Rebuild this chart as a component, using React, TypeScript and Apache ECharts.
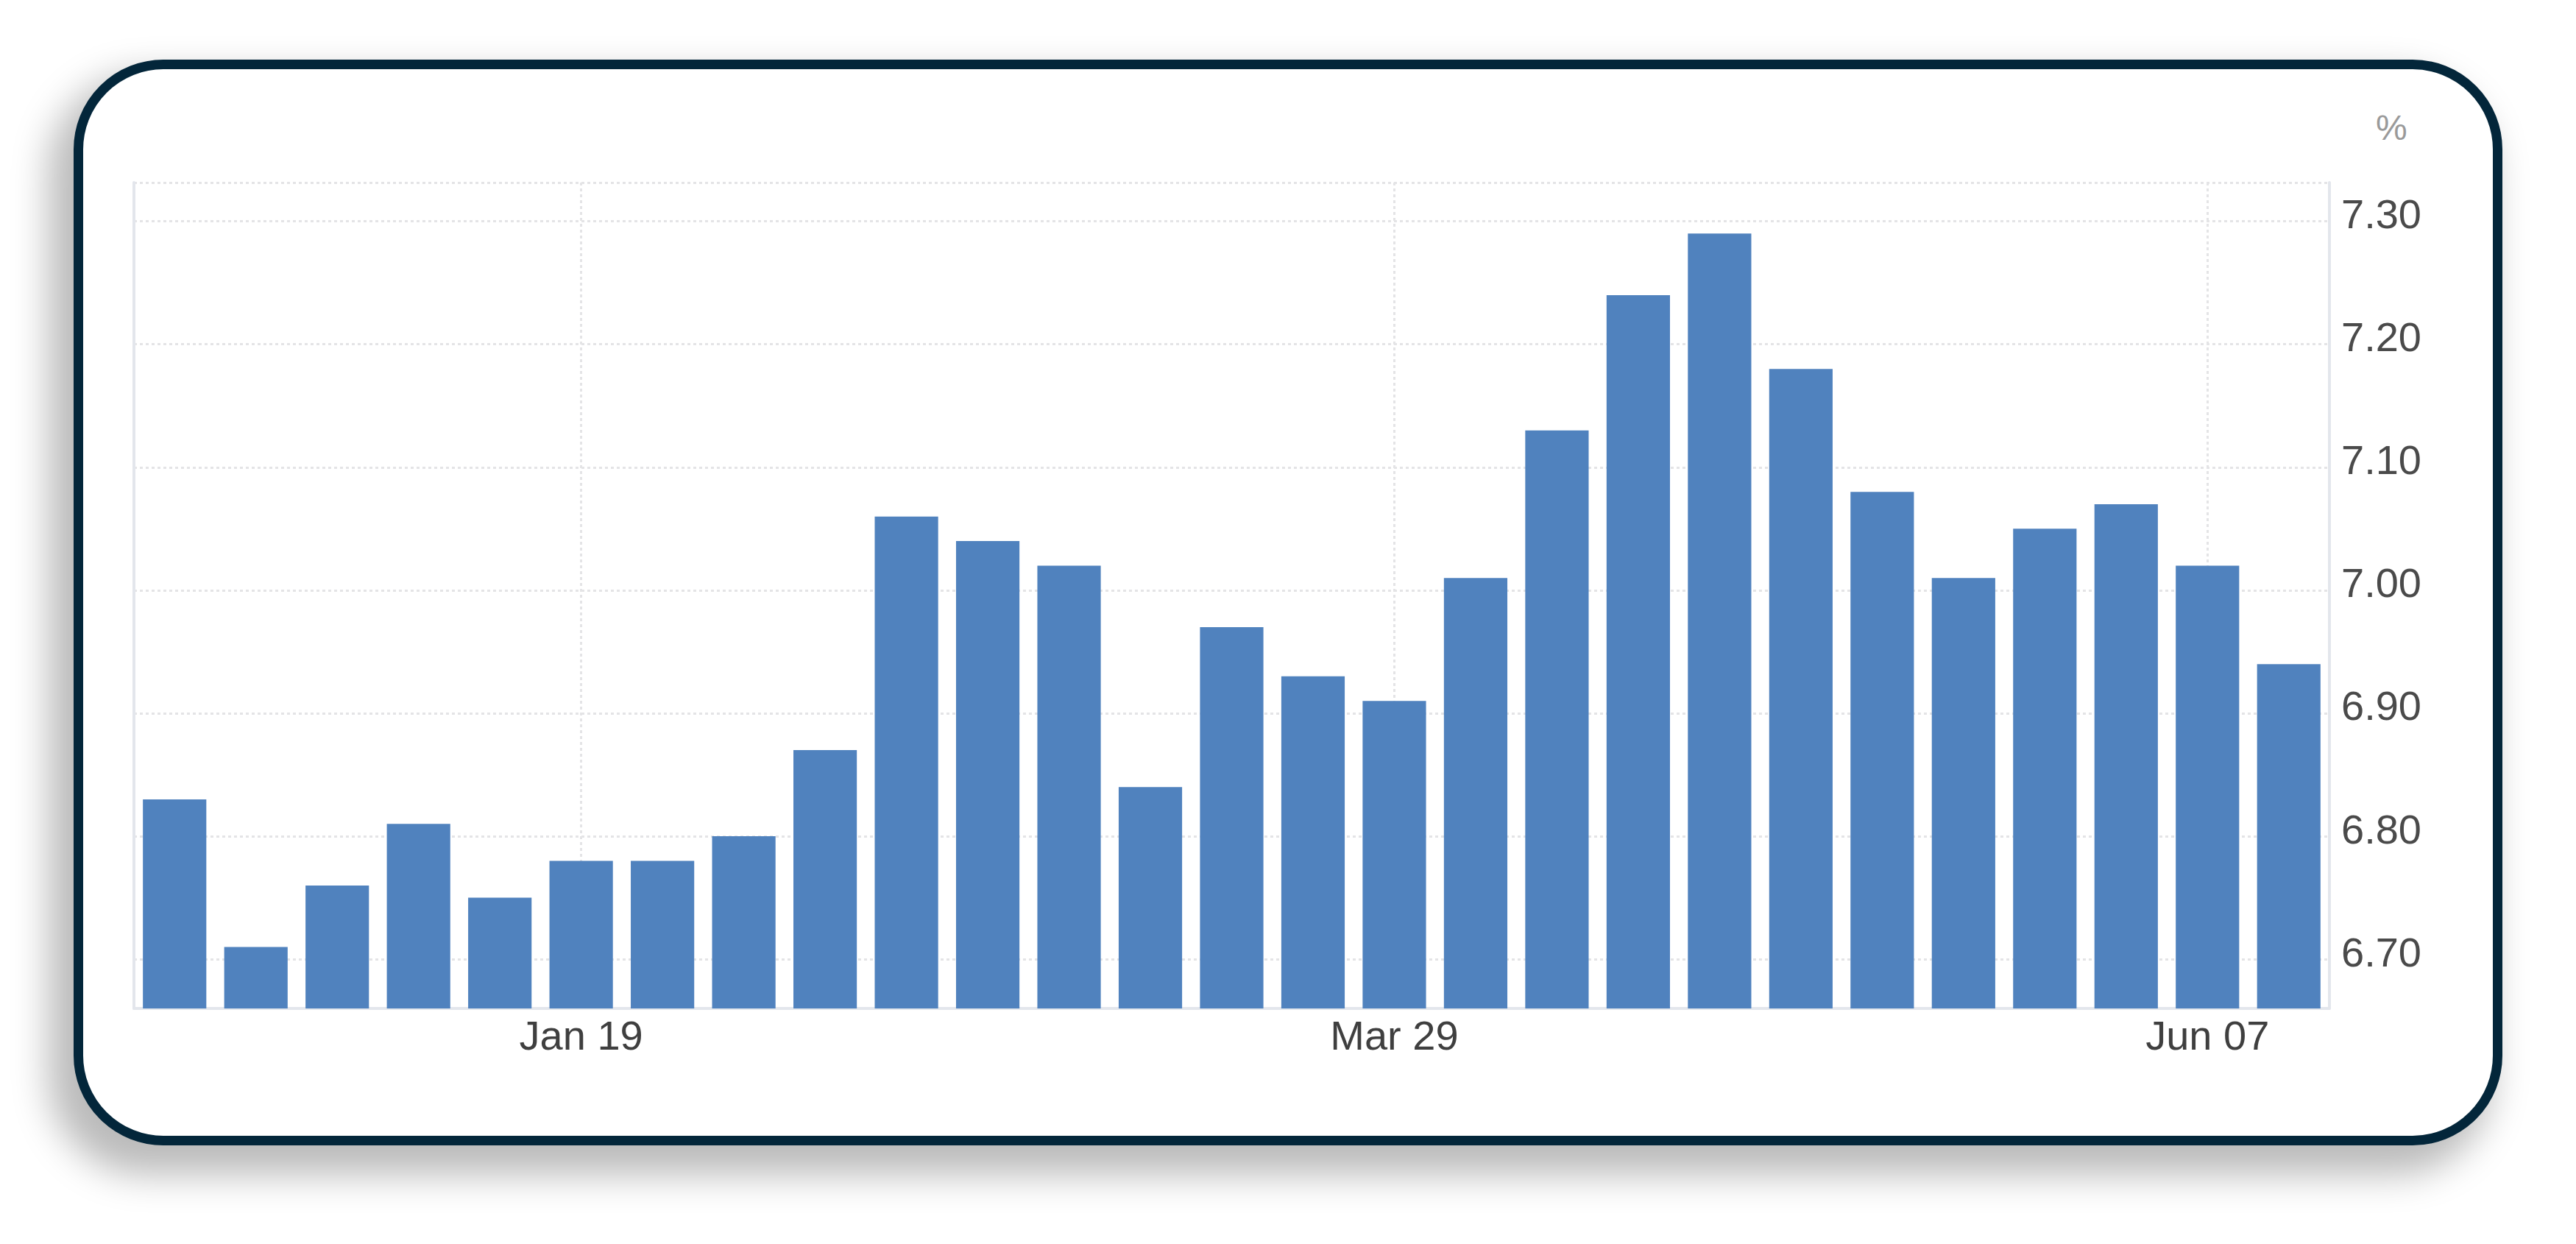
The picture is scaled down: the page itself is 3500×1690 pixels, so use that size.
import { useEffect, useRef } from 'react';
import * as echarts from 'echarts';

// weekly observations (contract rate, %)
const weeks = [
  'Dec 15', 'Dec 22', 'Dec 29', 'Jan 05', 'Jan 12', 'Jan 19', 'Jan 26',
  'Feb 02', 'Feb 09', 'Feb 16', 'Feb 23', 'Mar 01', 'Mar 08', 'Mar 15',
  'Mar 22', 'Mar 29', 'Apr 05', 'Apr 12', 'Apr 19', 'Apr 26', 'May 03',
  'May 10', 'May 17', 'May 24', 'May 31', 'Jun 07', 'Jun 14'
];
const rates = [
  6.83, 6.71, 6.76, 6.81, 6.75, 6.78, 6.78,
  6.80, 6.87, 7.06, 7.04, 7.02, 6.84, 6.97,
  6.93, 6.91, 7.01, 7.13, 7.24, 7.29, 7.18,
  7.08, 7.01, 7.05, 7.07, 7.02, 6.94
];
const labelledWeeks = ['Jan 19', 'Mar 29', 'Jun 07'];
const yMin = 6.66;
const yMax = 7.3315;

const FONT = '"Liberation Sans", Arial, Helvetica, sans-serif';
const GRID_COLOR = '#e4e4e6';
const AXIS_COLOR = '#e3e6ec';

const showWeek = (index: number) => labelledWeeks.includes(weeks[index]);

const RateChart = () => {
  const containerRef = useRef<HTMLDivElement>(null);

  useEffect(() => {
    if (!containerRef.current) return;
    const chart = echarts.init(containerRef.current, null, { renderer: 'svg' });

    const option: echarts.EChartsOption = {
      backgroundColor: 'transparent',
      animation: false,
      textStyle: { fontFamily: FONT },
      title: {
        text: '%',
        left: 3228,
        top: 149,
        padding: 0,
        textStyle: { fontFamily: FONT, fontSize: 48, fontWeight: 'normal', color: '#9a9a9a' }
      },
      grid: { left: 182, right: 335, top: 248, bottom: 320, containLabel: false },
      xAxis: {
        type: 'category',
        data: weeks,
        boundaryGap: true,
        axisTick: { show: false },
        axisLine: { lineStyle: { color: AXIS_COLOR, width: 4 } },
        axisLabel: {
          interval: showWeek,
          margin: 8,
          fontSize: 56,
          color: '#3f3f3f',
          fontFamily: FONT
        },
        splitLine: {
          show: true,
          interval: showWeek,
          alignWithLabel: true,
          lineStyle: { color: GRID_COLOR, width: 3, type: [4, 4] }
        } as any
      },
      yAxis: [
        {
          type: 'value',
          position: 'right',
          min: yMin,
          max: yMax,
          splitNumber: 6,
          axisLine: { show: true, lineStyle: { color: AXIS_COLOR, width: 4 } },
          axisTick: { show: false },
          axisLabel: {
            showMinLabel: false,
            showMaxLabel: false,
            margin: 16,
            fontSize: 56,
            color: '#4a4a4a',
            fontFamily: FONT,
            // labels sit slightly above their grid lines
            verticalAlign: 'bottom',
            lineHeight: 20,
            formatter: (v: number) => v.toFixed(2)
          },
          splitLine: { lineStyle: { color: GRID_COLOR, width: 3, type: [4, 4] } }
        },
        {
          type: 'value',
          position: 'left',
          min: yMin,
          max: yMax,
          axisLine: { show: true, lineStyle: { color: AXIS_COLOR, width: 4 } },
          axisTick: { show: false },
          axisLabel: { show: false },
          splitLine: { show: false }
        }
      ],
      series: [
        {
          type: 'bar',
          data: rates,
          yAxisIndex: 0,
          barWidth: '78%',
          itemStyle: { color: '#5082be' }
        }
      ]
    };

    chart.setOption(option);
    return () => chart.dispose();
  }, []);

  return (
    <div
      ref={containerRef}
      style={{ position: 'absolute', left: 0, top: 0, width: 3500, height: 1690, zIndex: 1 }}
    />
  );
};

export default function App() {
  useEffect(() => {
    document.body.style.margin = '0';
  }, []);

  return (
    <div style={{ position: 'relative', width: 3500, height: 1690, background: '#ffffff', overflow: 'hidden' }}>
      <div
        style={{
          position: 'absolute',
          left: 100,
          top: 81,
          width: 3300,
          height: 1475,
          boxSizing: 'border-box',
          border: '13px solid #03263a',
          borderRadius: 122,
          background: '#ffffff',
          boxShadow: '-24px 30px 50px 10px rgba(0, 0, 0, 0.27)'
        }}
      />
      <RateChart />
    </div>
  );
}
